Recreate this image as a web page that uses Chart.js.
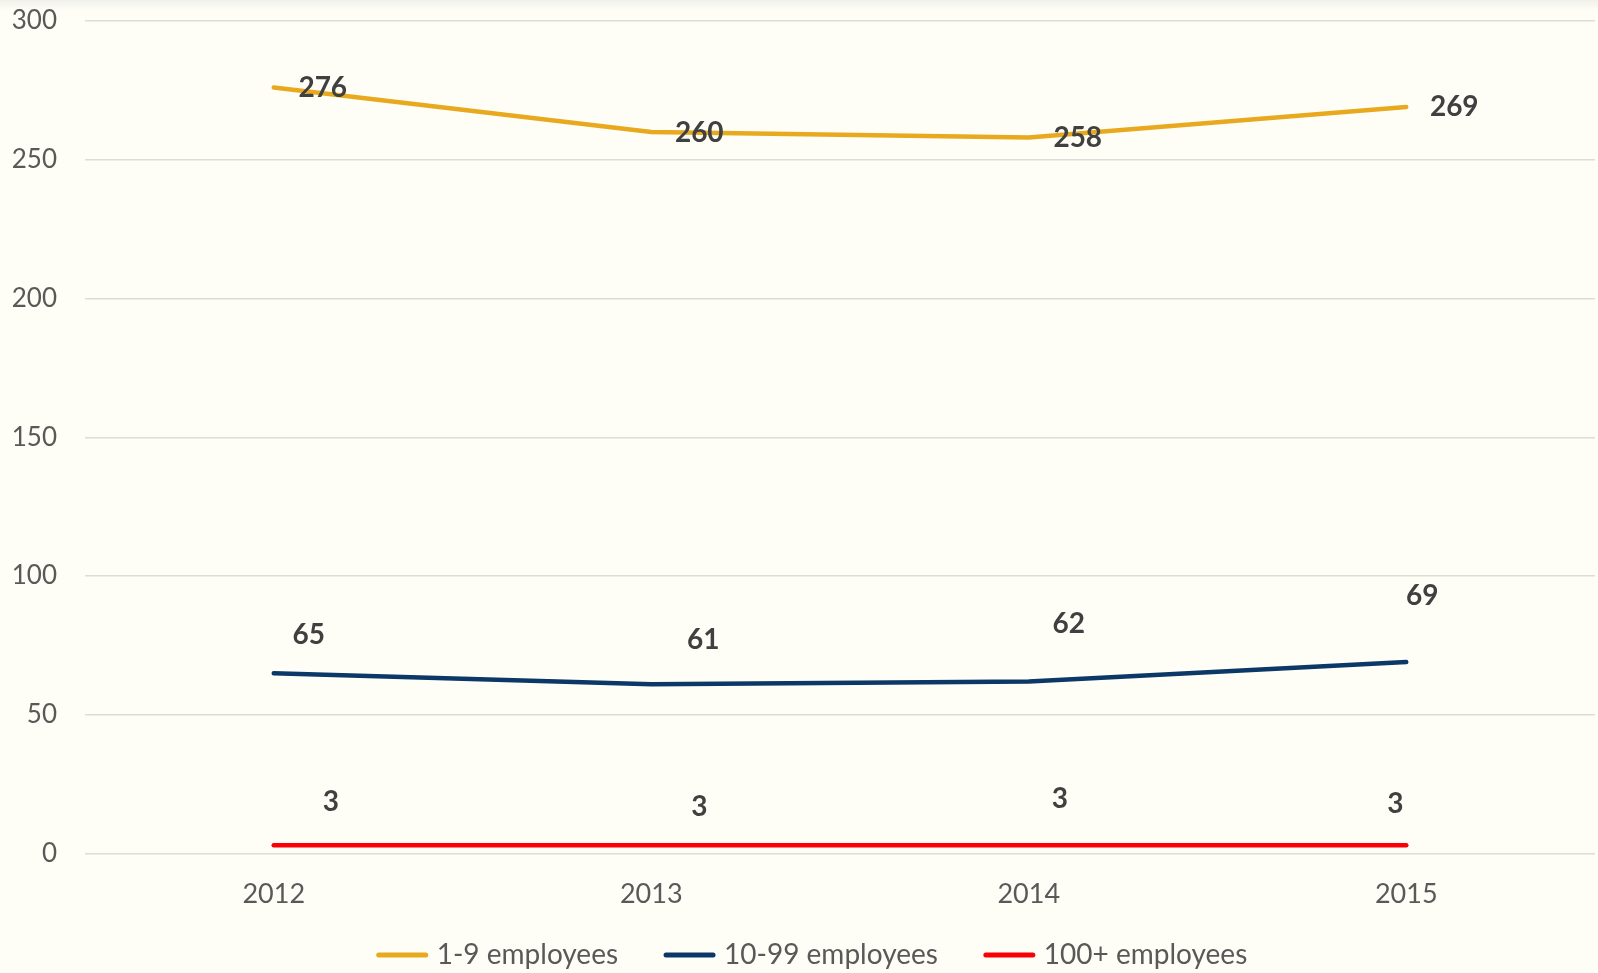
<!DOCTYPE html>
<html>
<head>
<meta charset="utf-8">
<script src="https://cdn.jsdelivr.net/npm/chart.js@4.4.0/dist/chart.umd.min.js"></script>
<style>
    html, body {
        margin: 0;
        padding: 0;
        background: #fefef6;
    }
    body {
        background: linear-gradient(#f1f1ec 0px, #fefef6 10px);
    }
    #wrap {
        position: relative;
        width: 1598px;
        height: 973px;
    }
</style>
</head>
<body>
<div id="wrap"><canvas id="chart"></canvas></div>
<script>
// Data
const years = ['2012', '2013', '2014', '2015'];
const small = [276, 260, 258, 269];
const medium = [65, 61, 62, 69];
const large = [3, 3, 3, 3];
const yTicks = [0, 50, 100, 150, 200, 250, 300];

// Label offsets from each point (px), to mimic the hand-placed labels
const labelOffsets = [
    [[49, 0], [48, 1], [49, 0], [48, 0]],
    [[35, -38], [52, -44], [40, -58], [16, -66]],
    [[57, -43], [48, -38], [31, -46], [-11, -41]]
];

const fontFamily = "Lato, 'Open Sans', sans-serif";

// Draw the value labels with the chart's own scales
const valueLabels = {
    id: 'valueLabels',
    afterDatasetsDraw(chart) {
        const ctx = chart.ctx;
        ctx.save();
        ctx.font = 'bold 28px ' + fontFamily;
        ctx.fillStyle = '#404040';
        ctx.textAlign = 'center';
        ctx.textBaseline = 'middle';
        chart.data.datasets.forEach((ds, i) => {
            const meta = chart.getDatasetMeta(i);
            meta.data.forEach((pt, j) => {
                const off = labelOffsets[i][j];
                ctx.fillText(ds.data[j], pt.x + off[0], pt.y + off[1]);
            });
        });
        ctx.restore();
    }
};

// Simple line-swatch legend under the axis
const lineLegend = {
    id: 'lineLegend',
    afterDraw(chart) {
        const ctx = chart.ctx;
        const sets = chart.data.datasets;
        const swatch = 51, gapText = 9, gapItem = 46;
        ctx.save();
        ctx.font = '28px ' + fontFamily;
        ctx.textBaseline = 'middle';
        const widths = sets.map(ds => ctx.measureText(ds.label).width);
        let total = 0;
        widths.forEach(w => { total += swatch + gapText + w; });
        total += gapItem * (sets.length - 1);
        let x = 812 - total / 2;
        const y = chart.height - 18;
        sets.forEach((ds, i) => {
            ctx.strokeStyle = ds.borderColor;
            ctx.lineWidth = 5;
            ctx.lineCap = 'round';
            ctx.beginPath();
            ctx.moveTo(x + 2, y);
            ctx.lineTo(x + swatch - 2, y);
            ctx.stroke();
            x += swatch + gapText;
            ctx.fillStyle = '#595959';
            ctx.fillText(ds.label, x, y);
            x += widths[i] + gapItem;
        });
        ctx.restore();
    }
};

function makeSet(label, data, color) {
    return {
        label: label,
        data: data,
        borderColor: color,
        backgroundColor: color,
        borderWidth: 4.5,
        pointRadius: 0,
        tension: 0,
        borderCapStyle: 'round'
    };
}

new Chart(document.getElementById('chart'), {
    type: 'line',
    data: {
        labels: years,
        datasets: [
            makeSet('1-9 employees', small, '#e8a91f'),
            makeSet('10-99 employees', medium, '#0c3868'),
            makeSet('100+ employees', large, '#fb0007')
        ]
    },
    options: {
        responsive: true,
        maintainAspectRatio: false,
        animation: false,
        layout: {
            padding: { top: 21, right: 3, bottom: 39, left: 0 }
        },
        plugins: {
            legend: { display: false },
            tooltip: { enabled: false }
        },
        scales: {
            x: {
                offset: true,
                afterFit(scale) {
                    scale.paddingLeft = 0;
                    scale.paddingRight = 0;
                },
                grid: { display: false, drawTicks: false },
                border: { display: false },
                ticks: {
                    color: '#595959',
                    padding: 24,
                    font: { family: fontFamily, size: 27 }
                }
            },
            y: {
                min: 0,
                max: 300,
                afterFit(scale) {
                    scale.width = 85;
                    scale.paddingTop = 0;
                    scale.paddingBottom = 0;
                },
                afterBuildTicks(scale) {
                    scale.ticks = yTicks.map(v => ({ value: v }));
                },
                grid: { color: '#dcdcd8', lineWidth: 1.5, drawTicks: false },
                border: { display: false },
                ticks: {
                    color: '#595959',
                    padding: 28,
                    font: { family: fontFamily, size: 26 }
                }
            }
        }
    },
    plugins: [valueLabels, lineLegend]
});
</script>
</body>
</html>
